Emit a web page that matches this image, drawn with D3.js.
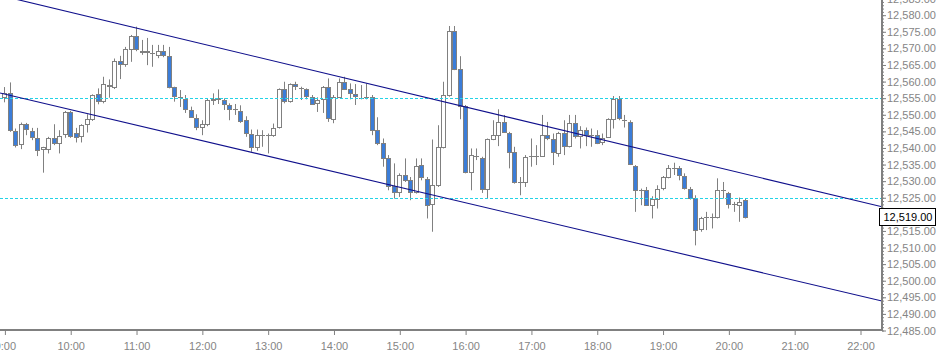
<!DOCTYPE html>
<html lang="en">
  <head>
    <meta charset='utf-8'>
    <script src='https://d3js.org/d3.v7.min.js'></script>
    <title>5 min candles</title>
    <style>
      body {
        margin: 0px;
        background: #fff;
      }
      .tick text, .price-box text {
        font-size: 11px;
        font-family: 'Liberation Sans', Arial, sans-serif;
      }
      .tick text {
        fill: #858585;
      }
      .tick line {
        stroke: #808080;
      }
      .domain {
        display: none;
      }
    </style>
  </head>
  <body>
    <div id='viz'></div>
    <script>

      // 5 minute bars, first one at 09:00
      const firstBar = [9, 0];
      const barMinutes = 5;

      const opens = [
        12555.3, 12556.5, 12545.1, 12540.9, 12547.0, 12545.1, 12543.0, 12539.5, 12539.5, 12542.9,
        12541.5, 12543.9, 12550.6, 12544.5, 12543.3, 12547.0, 12548.6, 12556.0, 12554.0, 12558.8,
        12558.3, 12566.0, 12565.2, 12569.7, 12573.6, 12569.2, 12569.0, 12568.5, 12567.8, 12569.0,
        12567.5, 12558.1, 12555.1, 12554.5, 12551.3, 12549.0, 12546.2, 12547.0, 12554.4, 12554.8,
        12554.3, 12552.7, 12551.5, 12551.1, 12548.2, 12544.0, 12540.2, 12543.7, 12543.7, 12543.9,
        12546.2, 12557.5, 12553.8, 12559.0, 12557.8, 12557.5, 12555.3, 12553.3, 12554.5, 12558.1,
        12548.8, 12555.3, 12559.8, 12557.5, 12556.1, 12555.0, 12555.1, 12555.3, 12545.2, 12541.4,
        12536.7, 12528.3, 12526.6, 12531.6, 12530.1, 12526.6, 12534.7, 12530.6, 12522.9, 12528.6,
        12540.0, 12555.8, 12575.1, 12563.5, 12552.5, 12532.6, 12537.4, 12536.7, 12527.3, 12542.5,
        12543.7, 12547.7, 12544.4, 12538.5, 12529.6, 12529.6, 12537.4, 12537.4, 12537.4, 12543.7,
        12542.4, 12538.4, 12544.4, 12540.4, 12547.4, 12543.4, 12545.2, 12543.7, 12543.7, 12541.4,
        12543.2, 12548.5, 12554.5, 12548.2, 12547.7, 12534.4, 12527.3, 12527.3, 12522.9, 12524.6,
        12527.6, 12531.0, 12533.9, 12533.7, 12531.4, 12527.6, 12524.9, 12515.3, 12519.1, 12519.1,
        12518.9, 12527.1, 12526.3, 12522.9, 12522.9, 12524.1
      ];
      const highs = [
        12558.2, 12559.6, 12545.7, 12547.5, 12547.4, 12545.9, 12545.9, 12540.2, 12543.2, 12547.0,
        12545.2, 12551.0, 12551.0, 12545.9, 12547.0, 12550.0, 12556.0, 12557.8, 12561.3, 12560.5,
        12566.8, 12567.6, 12570.3, 12573.9, 12576.4, 12572.4, 12573.0, 12570.9, 12570.9, 12570.9,
        12570.3, 12558.3, 12557.3, 12555.8, 12552.3, 12550.0, 12548.2, 12554.8, 12556.3, 12557.5,
        12554.8, 12553.3, 12553.1, 12552.7, 12549.4, 12545.4, 12545.4, 12545.2, 12544.2, 12547.2,
        12557.8, 12559.8, 12559.3, 12559.8, 12558.3, 12557.8, 12555.8, 12555.1, 12558.5, 12560.8,
        12555.8, 12560.8, 12561.3, 12559.3, 12559.1, 12558.8, 12559.3, 12555.8, 12549.1, 12542.7,
        12537.7, 12535.2, 12532.2, 12536.7, 12531.1, 12536.7, 12536.7, 12531.1, 12542.4, 12546.7,
        12559.8, 12576.6, 12576.6, 12567.5, 12552.8, 12539.7, 12539.7, 12537.2, 12542.7, 12548.2,
        12551.5, 12549.8, 12544.7, 12540.2, 12531.1, 12537.7, 12542.7, 12540.7, 12549.8, 12547.7,
        12544.2, 12544.7, 12548.2, 12549.8, 12549.8, 12546.4, 12546.0, 12545.7, 12545.2, 12544.2,
        12548.8, 12555.5, 12555.5, 12549.8, 12548.2, 12534.7, 12527.6, 12528.1, 12525.3, 12528.6,
        12531.4, 12534.7, 12535.4, 12534.4, 12532.2, 12528.1, 12525.6, 12519.1, 12520.6, 12520.1,
        12530.7, 12529.6, 12526.6, 12523.6, 12524.9, 12524.6
      ];
      const lows = [
        12553.6, 12544.7, 12540.0, 12539.5, 12543.7, 12542.2, 12537.4, 12532.4, 12538.2, 12540.7,
        12538.2, 12542.9, 12542.9, 12541.5, 12541.5, 12544.5, 12548.0, 12553.0, 12553.3, 12555.0,
        12557.6, 12560.6, 12564.3, 12565.8, 12569.0, 12567.9, 12564.8, 12564.3, 12566.9, 12567.2,
        12557.8, 12553.8, 12552.2, 12550.4, 12549.0, 12545.2, 12543.7, 12546.4, 12552.8, 12553.1,
        12551.3, 12548.2, 12549.8, 12547.4, 12543.2, 12538.7, 12539.0, 12540.2, 12538.2, 12543.2,
        12545.7, 12553.3, 12553.5, 12557.3, 12554.3, 12554.5, 12552.8, 12550.7, 12550.4, 12547.7,
        12547.3, 12555.1, 12557.3, 12554.5, 12552.8, 12554.5, 12554.5, 12543.7, 12540.7, 12534.2,
        12527.1, 12524.6, 12525.1, 12529.6, 12524.1, 12526.1, 12530.1, 12518.6, 12514.6, 12528.1,
        12539.7, 12555.3, 12563.3, 12548.5, 12532.2, 12527.1, 12536.2, 12526.3, 12524.6, 12542.2,
        12540.4, 12544.4, 12533.7, 12529.1, 12525.6, 12528.1, 12534.2, 12534.7, 12537.2, 12542.2,
        12534.7, 12537.2, 12537.7, 12540.0, 12542.7, 12539.7, 12540.4, 12540.2, 12541.0, 12540.7,
        12543.0, 12545.7, 12548.2, 12546.0, 12534.7, 12520.6, 12522.6, 12522.6, 12518.6, 12521.6,
        12527.1, 12530.7, 12531.7, 12530.1, 12527.3, 12524.3, 12510.5, 12514.6, 12515.1, 12515.6,
        12518.6, 12524.6, 12521.6, 12520.6, 12517.6, 12518.6
      ];
      const closes = [
        12556.5, 12545.5, 12540.9, 12547.0, 12545.4, 12543.3, 12539.5, 12540.0, 12542.9, 12541.3,
        12543.6, 12550.6, 12543.5, 12543.3, 12546.7, 12548.5, 12555.8, 12554.0, 12559.0, 12558.5,
        12566.0, 12565.2, 12569.7, 12573.6, 12569.7, 12569.0, 12569.2, 12568.6, 12569.0, 12567.8,
        12558.3, 12555.5, 12555.1, 12551.5, 12549.2, 12546.4, 12547.0, 12554.3, 12554.6, 12554.6,
        12553.1, 12551.5, 12551.5, 12548.2, 12544.2, 12540.0, 12543.7, 12543.7, 12543.6, 12546.0,
        12557.5, 12554.0, 12559.0, 12558.5, 12557.7, 12555.5, 12553.3, 12554.3, 12558.1, 12548.8,
        12555.3, 12559.8, 12557.8, 12556.3, 12555.5, 12555.0, 12555.2, 12545.4, 12541.4, 12537.0,
        12528.3, 12526.6, 12531.6, 12530.1, 12526.6, 12534.4, 12531.0, 12522.9, 12528.6, 12540.0,
        12555.8, 12575.1, 12563.8, 12552.5, 12532.6, 12537.7, 12537.4, 12527.3, 12542.4, 12543.7,
        12547.7, 12544.7, 12538.7, 12529.6, 12529.6, 12537.2, 12537.4, 12537.4, 12543.7, 12542.7,
        12538.4, 12544.4, 12540.4, 12547.4, 12543.4, 12545.2, 12543.7, 12543.7, 12541.4, 12542.7,
        12548.5, 12554.5, 12548.8, 12548.2, 12535.0, 12527.3, 12527.3, 12522.9, 12524.6, 12527.6,
        12531.0, 12533.7, 12533.9, 12531.7, 12527.9, 12524.9, 12515.3, 12518.6, 12519.1, 12519.1,
        12527.1, 12527.1, 12522.9, 12522.9, 12523.7, 12519.0
      ];

      // horizontal levels and the two channel lines (time, price)
      const levels = [12555, 12525];
      const upperChannel = [[[9, 0], 12585.5], [[22, 0], 12523.7]];
      const lowerChannel = [[[9, 0], 12556.1], [[22, 0], 12495.3]];
      const lastPrice = 12519;

      const hourTicks = [9, 10, 11, 12, 13, 14, 15, 16, 17, 18, 19, 20, 21, 22];

      const width = 939, height = 351;
      const plotRight = 882, plotBottom = 330;
      const bullFill = '#ffffff', bearFill = '#3b7dd8', candleStroke = '#808080';
      const levelColor = '#22d3e6';

      const day = (h, m) => new Date(2000, 0, 1, h, m);

      const bars = opens.map((o, i) => ({
        t: new Date(day(firstBar[0], firstBar[1]).getTime() + i * barMinutes * 60000),
        o: o, h: highs[i], l: lows[i], c: closes[i]
      }));

      const x = d3.scaleTime()
        .domain([day(9, 0), day(22, 0)])
        .range([4.4, 860]);

      const y = d3.scaleLinear()
        .domain([12485, 12580])
        .range([plotBottom, 14.7]);

      const svg = d3.select('#viz').append('svg')
        .attr('width', width)
        .attr('height', height);

      svg.append('clipPath').attr('id', 'plot-clip')
        .append('rect')
        .attr('x', 0).attr('y', 0)
        .attr('width', plotRight).attr('height', plotBottom);

      const plot = svg.append('g').attr('clip-path', 'url(#plot-clip)');

      const px = d => Math.round(x(d.t)) + 0.5;

      // candles
      const candles = plot.selectAll('g.candle').data(bars)
        .enter().append('g')
        .attr('class', 'candle');

      candles.append('line')
        .attr('x1', px).attr('x2', px)
        .attr('y1', d => y(d.h))
        .attr('y2', d => y(d.l))
        .attr('stroke', candleStroke);

      candles.append('rect')
        .attr('x', d => px(d) - 2)
        .attr('width', 4)
        .attr('y', d => Math.round(y(Math.max(d.o, d.c))) + 0.5)
        .attr('height', d => Math.max(0.01, Math.round(Math.abs(y(d.o) - y(d.c)))))
        .attr('fill', d => d.c < d.o ? bearFill : bullFill)
        .attr('stroke', candleStroke);

      // dashed levels, snapped to even pixel rows (odd rows came out grey)
      const levelRow = v => 2 * Math.round(y(v) / 2) + 0.5;

      plot.selectAll('line.level').data(levels)
        .enter().append('line')
        .attr('class', 'level')
        .attr('x1', 0).attr('x2', plotRight)
        .attr('y1', levelRow)
        .attr('y2', levelRow)
        .attr('stroke', levelColor)
        .attr('stroke-dasharray', '3,2');

      // channel lines, extended to the plot edges
      const extend = pts => {
        const a = [x(day(...pts[0][0])), y(pts[0][1])];
        const b = [x(day(...pts[1][0])), y(pts[1][1])];
        const k = (b[1] - a[1]) / (b[0] - a[0]);
        return [[0, a[1] - k * a[0]], [plotRight, a[1] + k * (plotRight - a[0])]];
      };

      plot.selectAll('path.channel').data([upperChannel, lowerChannel])
        .enter().append('path')
        .attr('class', 'channel')
        .attr('d', d => d3.line()(extend(d)))
        .attr('fill', 'none')
        .attr('stroke', '#10108c')
        .attr('stroke-width', 1.1);

      // axes
      const xAxis = d3.axisBottom(x)
        .tickValues(hourTicks.map(h => day(h, 0)))
        .tickFormat(d3.timeFormat('%-H:%M'))
        .tickSize(5)
        .tickSizeOuter(0)
        .tickPadding(7);

      svg.append('g')
        .attr('transform', `translate(0.5,${plotBottom})`)
        .call(xAxis);

      const yMinor = d3.axisRight(y)
        .tickValues(d3.range(12485, 12586, 1))
        .tickSize(2)
        .tickSizeOuter(0)
        .tickFormat('');

      const yAxis = d3.axisRight(y)
        .tickValues(d3.range(12485, 12586, 5))
        .tickSize(4)
        .tickSizeOuter(0)
        .tickPadding(1)
        .tickFormat(d3.format(',.2f'));

      svg.append('g')
        .attr('transform', `translate(${plotRight},0.5)`)
        .call(yMinor);

      svg.append('g')
        .attr('transform', `translate(${plotRight},0.5)`)
        .call(yAxis);

      // axis lines
      svg.append('line')
        .attr('x1', 0).attr('x2', plotRight + 1)
        .attr('y1', plotBottom).attr('y2', plotBottom)
        .attr('stroke', '#808080').attr('stroke-width', 2);

      svg.append('line')
        .attr('x1', plotRight).attr('x2', plotRight)
        .attr('y1', 0).attr('y2', plotBottom + 1)
        .attr('stroke', '#808080').attr('stroke-width', 2);

      // last price box
      const box = svg.append('g').attr('class', 'price-box')
        .attr('transform', `translate(879.5,${Math.round(y(lastPrice)) - 8.5})`);

      box.append('rect')
        .attr('width', 56).attr('height', 17)
        .attr('fill', '#fff')
        .attr('stroke', '#000');

      box.append('text')
        .attr('x', 4).attr('y', 12.5)
        .attr('fill', '#000')
        .text(d3.format(',.2f')(lastPrice));

    </script>
  </body>
</html>
